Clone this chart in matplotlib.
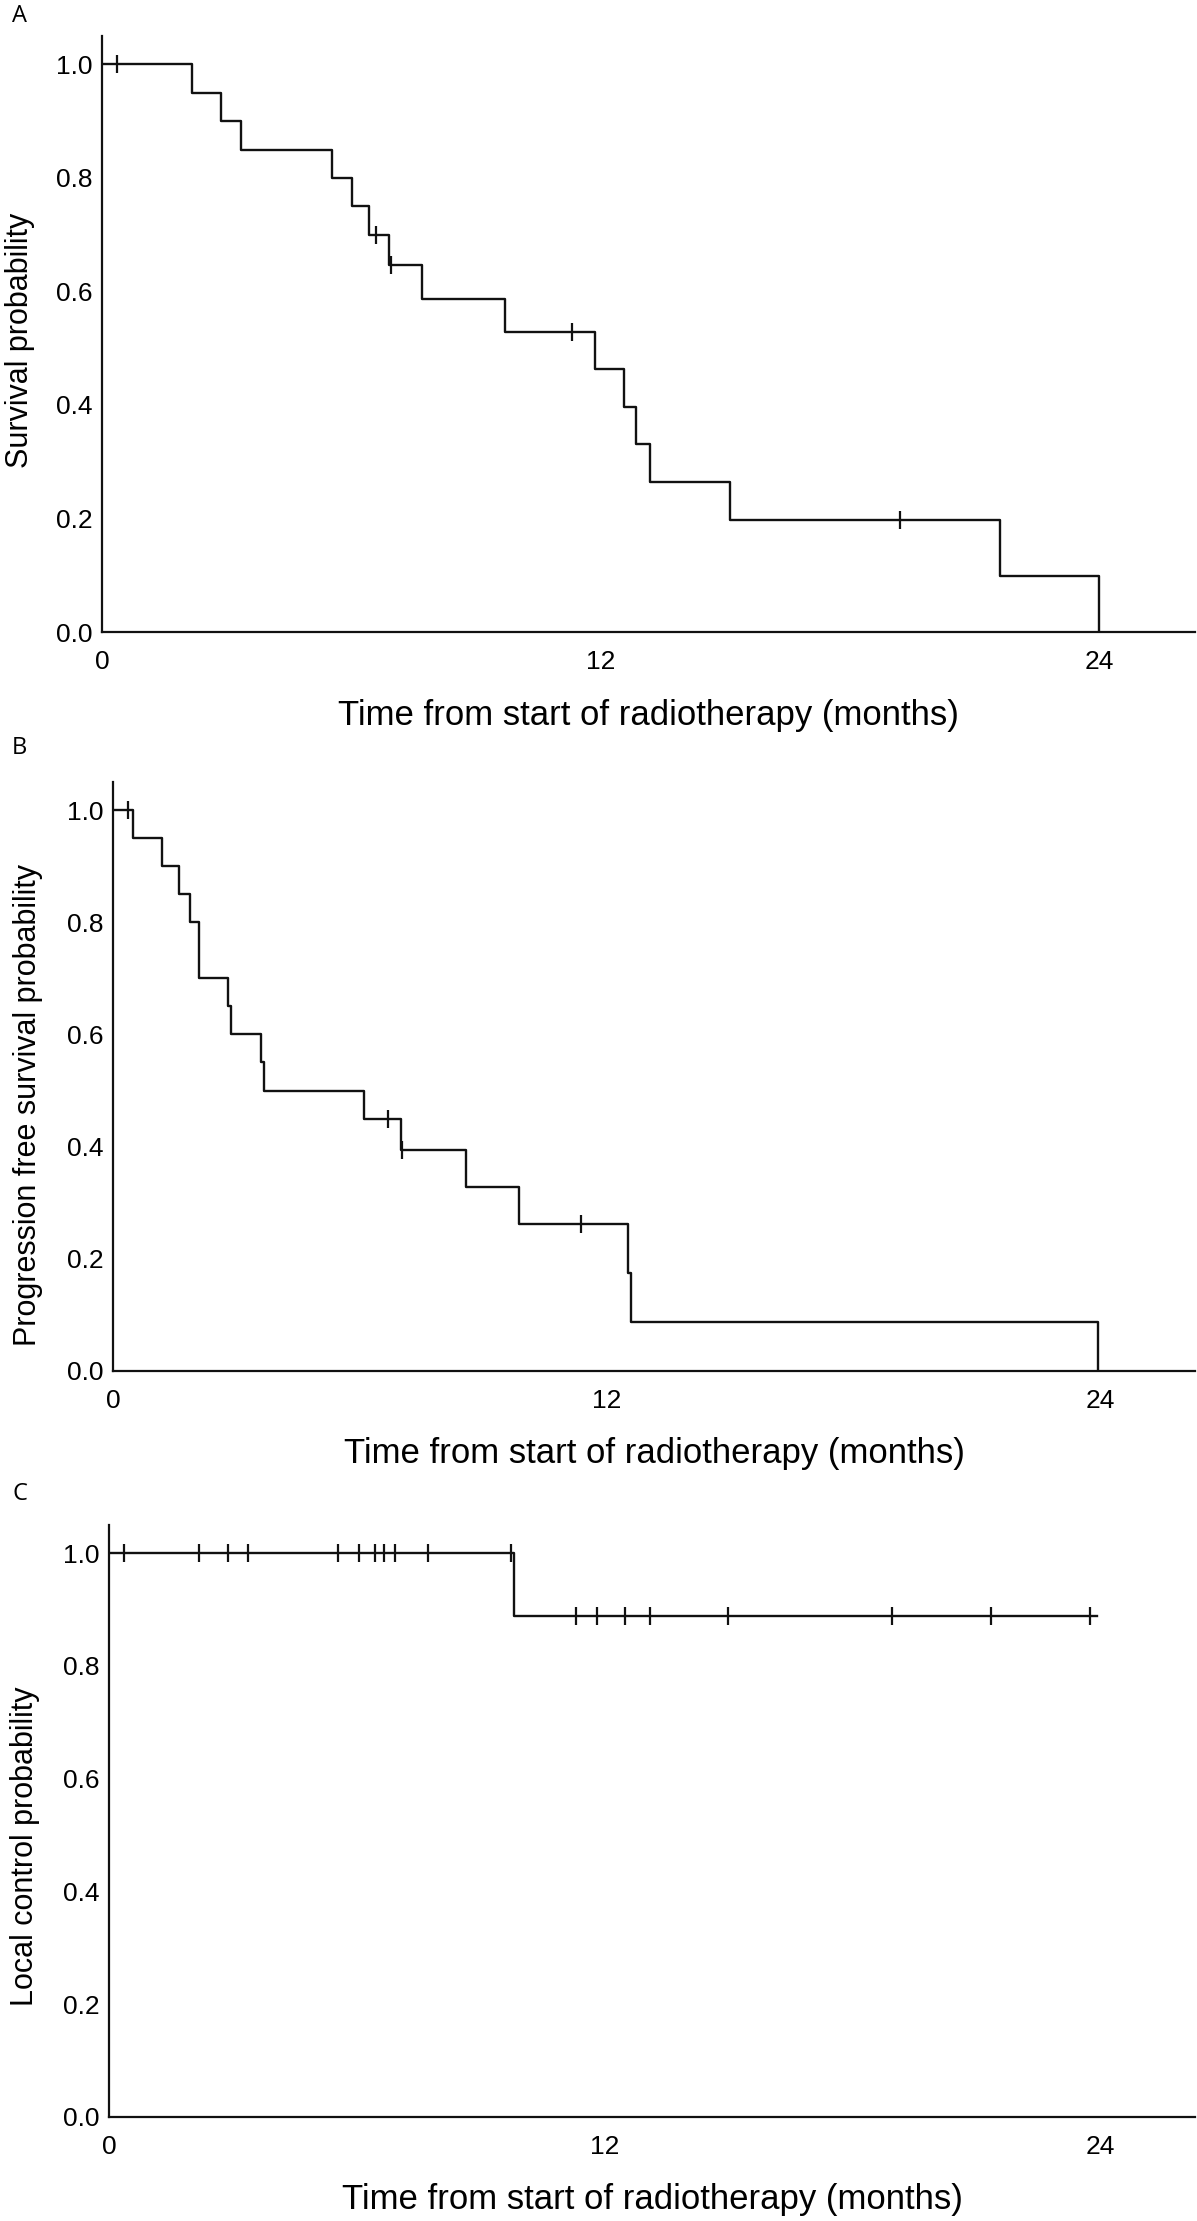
import numpy as np
import matplotlib
matplotlib.use("Agg")
import matplotlib.pyplot as plt

# panel A: overall survival (Kaplan-Meier steps)
os_times = [0, 2.17, 2.87, 3.35, 5.54, 6.01, 6.42, 6.90, 7.70, 9.70,
            11.86, 12.56, 12.86, 13.18, 15.10, 21.60, 24.0]
os_surv = [1.0, 0.95, 0.90, 0.85, 0.80, 0.75, 0.70, 0.646, 0.587, 0.529,
           0.463, 0.397, 0.331, 0.265, 0.198, 0.099, 0.0]
os_censor = [0.36, 6.60, 6.95, 11.30, 19.20]

# panel B: progression free survival
pfs_times = [0, 0.48, 1.18, 1.60, 1.88, 2.10, 2.79, 2.87, 3.59, 3.66,
             6.09, 6.99, 8.59, 9.88, 12.53, 12.60, 23.95]
pfs_surv = [1.0, 0.95, 0.90, 0.85, 0.80, 0.70, 0.65, 0.60, 0.55, 0.50,
            0.45, 0.394, 0.328, 0.262, 0.175, 0.0875, 0.0]
pfs_censor = [0.37, 6.68, 7.02, 11.38]

# panel C: local control
lc_times = [0, 9.82, 23.92]
lc_surv = [1.0, 0.889, 0.889]
lc_censor = [0.37, 2.17, 2.88, 3.37, 5.54, 6.05, 6.45, 6.65, 6.93, 7.73, 9.73,
             11.31, 11.83, 12.50, 13.10, 14.99, 18.96, 21.36, 23.75]

xticks = [0, 12, 24]
yticks = [0.0, 0.2, 0.4, 0.6, 0.8, 1.0]
xlab = "Time from start of radiotherapy (months)"

W, H = 1197, 2221
plt.rcParams['font.family'] = ['Liberation Sans', 'DejaVu Sans']
fig = plt.figure(figsize=(W / 100, H / 100), dpi=100)

# (left, top, bottom) in pixels, ylabel, label position in axes coords, letter y
panels = [
    (102, 36, 632, os_times, os_surv, os_censor, "Survival probability", (-0.075, 0.49), "A", 16),
    (113, 782, 1371, pfs_times, pfs_surv, pfs_censor, "Progression free survival probability", (-0.079, 0.452), "B", 748),
    (109, 1525, 2117, lc_times, lc_surv, lc_censor, "Local control probability", (-0.077, 0.457), "C", 1494),
]
right = 1195

for left, top, bottom, t, s, cens, ylab, lpos, letter, ly in panels:
    ax = fig.add_axes([left / W, 1 - bottom / H, (right - left) / W, (bottom - top) / H])
    ax.step(t, s, where='post', color='#111111', lw=1.7)
    # censored observations, placed on the curve
    idx = np.searchsorted(t, cens, side='right') - 1
    cy = np.array(s)[idx]
    ax.plot(cens, cy, ls='none', marker='|', ms=13.5, mew=1.6, color='#111111')

    ax.set_xlim(0, 26.3)
    ax.set_ylim(0, 1.05)
    ax.set_xticks(xticks)
    ax.set_yticks(yticks)
    ax.set_yticklabels([f"{v:.1f}" for v in yticks])
    for side in ('top', 'right'):
        ax.spines[side].set_visible(False)
    for side in ('left', 'bottom'):
        ax.spines[side].set_linewidth(1.6)
        ax.spines[side].set_color('#111111')
    ax.tick_params(axis='y', length=0, pad=7, labelsize=19)
    ax.tick_params(axis='x', length=0, pad=13, labelsize=19)

    ax.set_xlabel(xlab, fontsize=25)
    ax.xaxis.label.set_va('center')
    ax.set_ylabel(ylab, fontsize=22)
    ax.yaxis.label.set_va('center')
    ax.yaxis.set_label_coords(*lpos)
    fig.text(12 / W, 1 - ly / H, letter, fontsize=17, family='Open Sans',
             ha='left', va='center')

# xlabel vertical placement in pixels
for ax, ypix in zip(fig.axes, [715, 1453, 2200]):
    pos = ax.get_position()
    frac = ((1 - ypix / H) - pos.y0) / pos.height
    ax.xaxis.set_label_coords(0.5, frac)

fig.savefig("out.png", dpi=100)
